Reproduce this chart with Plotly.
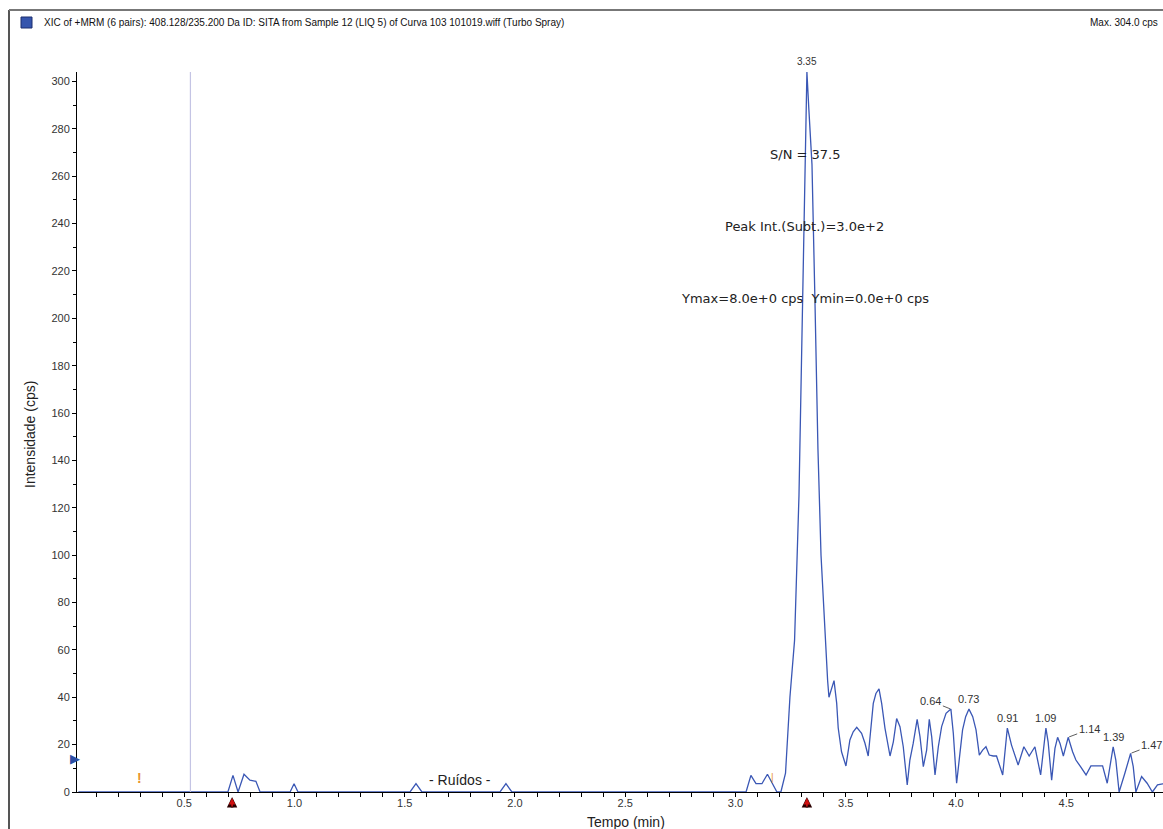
import plotly.graph_objects as go

# ---------------- data ----------------
time_min = [
    0.02, 0.698, 0.721, 0.744, 0.771, 0.798, 0.825, 0.844,
    0.980, 0.998, 1.016,
    1.524, 1.551, 1.578,
    1.932, 1.959, 1.986,
    3.048, 3.070, 3.093, 3.120, 3.145, 3.165, 3.188,
    3.206, 3.227, 3.247, 3.268, 3.288, 3.306, 3.324,
    3.333, 3.347, 3.361, 3.374, 3.388, 3.401, 3.418, 3.424, 3.436, 3.447,
    3.459, 3.466, 3.481, 3.501, 3.519, 3.534, 3.550, 3.572, 3.587, 3.602,
    3.625, 3.637, 3.651, 3.663, 3.678, 3.701, 3.716, 3.731, 3.746, 3.761,
    3.779, 3.791, 3.806, 3.824, 3.837, 3.852, 3.867, 3.879, 3.890, 3.905,
    3.920, 3.935, 3.955, 3.977, 3.988, 4.003, 4.018, 4.030, 4.044, 4.059,
    4.076, 4.091, 4.106, 4.121, 4.136, 4.151, 4.169, 4.184, 4.212, 4.233,
    4.252, 4.282, 4.308, 4.332, 4.358, 4.384, 4.408, 4.418, 4.434, 4.449,
    4.461, 4.472, 4.487, 4.509, 4.529, 4.544, 4.565, 4.590, 4.612, 4.638,
    4.665, 4.686, 4.713, 4.725, 4.740, 4.766, 4.792, 4.804, 4.816, 4.842,
    4.867, 4.891, 4.914, 4.937, 4.955,
]
intensity_cps = [
    0, 0, 7, 0, 7.5, 5, 4.5, 0,
    0, 3.5, 0,
    0, 3.5, 0,
    0, 3.5, 0,
    0, 7, 3.5, 3.5, 7.5, 4, 0,
    0, 8, 40, 64, 125, 215, 304,
    288, 265, 205, 145, 100, 75, 47, 40, 44, 47,
    37.5, 27, 17, 11, 22, 25.4, 27.3, 24.8, 20.7, 15.2,
    37.4, 41.6, 43.5, 37.4, 27, 15.2, 21.2, 31, 27.6, 19.1,
    3, 13.5, 20.5, 30.7, 23.3, 10.7, 17.7, 30.7, 23.3, 7.2,
    19.1, 27.6, 33.2, 35, 24.8, 3.7, 16.3, 26.2, 31.8, 35,
    31.8, 26.2, 15.6, 17.7, 19.1, 15.6, 15.2, 15.2, 7.2, 27,
    19.8, 11.4, 19.1, 15.2, 19.1, 7.2, 27, 21.2, 5, 18.4,
    23.1, 20.5, 15.2, 23.1, 17, 13.5, 10.7, 7.2, 11, 11,
    11, 3.7, 19.1, 13.5, 0, 7.9, 16.3, 10.7, 0, 6.5,
    3.7, 0, 3, 3.4, 3.4,
]

apex_time = 3.324
apex_value = 304
apex_label = "3.35"

peak_labels = ["0.64", "0.73", "0.91", "1.09", "1.14", "1.39", "1.47"]
peak_times = [3.977, 4.059, 4.233, 4.408, 4.509, 4.713, 4.792]
peak_values = [35, 35, 27, 27, 23.1, 19.1, 16.3]
peak_leader = [True, False, False, False, True, False, True]

y_ticks = list(range(0, 301, 20))
x_ticks = [0.5, 1.0, 1.5, 2.0, 2.5, 3.0, 3.5, 4.0, 4.5]

header_text = ("XIC of +MRM (6 pairs): 408.128/235.200 Da ID: SITA from Sample 12 "
               "(LIQ 5) of Curva 103 101019.wiff (Turbo Spray)")
max_text = "Max. 304.0 cps"
stats_lines = ["S/N = 37.5", "Peak Int.(Subt.)=3.0e+2", "Ymax=8.0e+0 cps  Ymin=0.0e+0 cps"]

# ---------------- layout geometry ----------------
W, H = 1163, 829
L, R, T, B = 77, 0, 72, 37
PW, PH = W - L - R, H - T - B
XR = [0.0136, 4.939]
YR = [0, 304]


def px_x(px):
    return (px - L) / PW


def px_y(py):
    return (H - B - py) / PH


LINE = "#3a57b5"
TXT = "#333333"

fig = go.Figure()
fig.add_trace(go.Scatter(x=time_min, y=intensity_cps, mode="lines",
                         line=dict(color=LINE, width=1.3), hoverinfo="skip",
                         showlegend=False))

ann = []
font_main = "Liberation Sans, Arial, sans-serif"
font_stat = "DejaVu Sans, Verdana, sans-serif"

ann.append(dict(xref="paper", yref="paper", x=px_x(42), y=px_y(22), text=header_text,
                showarrow=False, xanchor="left", yanchor="middle",
                font=dict(family=font_main, size=10, color="#111")))
ann.append(dict(xref="paper", yref="paper", x=px_x(1088), y=px_y(22), text=max_text,
                showarrow=False, xanchor="left", yanchor="middle",
                font=dict(family=font_main, size=10, color="#111")))

# stats text
for txt, py in zip(stats_lines, [154, 226, 298]):
    ann.append(dict(xref="x", yref="paper", x=3.315, y=px_y(py), text=txt, showarrow=False,
                    xanchor="center", yanchor="middle",
                    font=dict(family=font_stat, size=13, color="#222")))

# apex label
ann.append(dict(x=apex_time, y=apex_value, text=apex_label, showarrow=False,
                xanchor="center", yanchor="bottom", yshift=3,
                font=dict(family=font_main, size=10, color=TXT)))

# peak labels
for lab, t, v, lead in zip(peak_labels, peak_times, peak_values, peak_leader):
    if lead:
        if lab == "0.64":
            ax, ay = -20, -8
        else:
            ax, ay = 21, -8
        ann.append(dict(x=t, y=v, text=lab, showarrow=True, arrowhead=0, arrowwidth=0.8,
                        arrowcolor="#333", ax=ax, ay=ay, standoff=1,
                        font=dict(family=font_main, size=11, color=TXT)))
    else:
        ann.append(dict(x=t, y=v, text=lab, showarrow=False, xanchor="center",
                        yanchor="bottom", yshift=2,
                        font=dict(family=font_main, size=11, color=TXT)))

# noise label
ann.append(dict(x=1.75, y=5, text="- Ruídos -", showarrow=False, xanchor="center",
                font=dict(family=font_main, size=14, color="#222")))

# orange integration marks
ann.append(dict(x=0.299, y=6, text="<b>!</b>", showarrow=False, xanchor="center",
                font=dict(family=font_main, size=14, color="#e8952e")))
ann.append(dict(x=3.166, y=6, text="|", showarrow=False, xanchor="center",
                font=dict(family=font_main, size=10, color="#e8952e")))

# blue marker on y axis
ann.append(dict(xref="paper", yref="y", x=px_x(75), y=14, text="▶", showarrow=False,
                xanchor="center", yanchor="middle",
                font=dict(family="DejaVu Sans", size=13, color="#2c4ea3")))

# red arrows below axis (dark outline behind red arrow)
for t in [0.717, apex_time]:
    ann.append(dict(x=t, xref="x", yref="paper", y=px_y(797), text="", showarrow=True,
                    arrowhead=2, arrowsize=0.8, arrowwidth=2.6, arrowcolor="#2a0000",
                    ax=0, ay=12))
    ann.append(dict(x=t, xref="x", yref="paper", y=px_y(798), text="", showarrow=True,
                    arrowhead=2, arrowsize=0.8, arrowwidth=1.6, arrowcolor="#d01010",
                    ax=0, ay=10))

# axis titles
ann.append(dict(xref="paper", yref="paper", x=px_x(30), y=px_y(435), text="Intensidade (cps)",
                textangle=-90, showarrow=False, xanchor="center", yanchor="middle",
                font=dict(family=font_main, size=14, color="#222")))
ann.append(dict(xref="paper", yref="paper", x=px_x(626), y=px_y(822), text="Tempo (min)",
                showarrow=False, xanchor="center", yanchor="middle",
                font=dict(family=font_main, size=14, color="#222")))

shapes = [
    # lavender cursor line
    dict(type="line", xref="x", yref="paper", x0=0.528, x1=0.528, y0=0, y1=1,
         line=dict(color="#c4c4e4", width=1.2)),
    # window frame
    dict(type="line", xref="paper", yref="paper", x0=px_x(9), x1=px_x(9), y0=px_y(10), y1=px_y(840),
         line=dict(color="#555555", width=2)),
    dict(type="line", xref="paper", yref="paper", x0=px_x(9), x1=px_x(1170), y0=px_y(10), y1=px_y(10),
         line=dict(color="#777777", width=2)),
    # blue icon
    dict(type="rect", xref="paper", yref="paper", x0=px_x(21), x1=px_x(32), y0=px_y(28), y1=px_y(17),
         fillcolor="#3555ad", line=dict(color="#1d2f6e", width=1)),
]

fig.update_layout(
    width=W, height=H,
    margin=dict(l=L, r=R, t=T, b=B, pad=0),
    paper_bgcolor="white", plot_bgcolor="white",
    showlegend=False,
    annotations=ann, shapes=shapes,
    xaxis=dict(range=XR, tickmode="array", tickvals=x_ticks, ticktext=[f"{v:.1f}" for v in x_ticks],
               showgrid=False, zeroline=False, showline=True, linecolor="black", linewidth=1,
               ticks="outside", ticklen=4, tickcolor="black", ticklabelstandoff=-3,
               minor=dict(dtick=0.1, tick0=0, ticks="outside", ticklen=4, tickcolor="black", showgrid=False),
               tickfont=dict(family=font_main, size=11, color=TXT)),
    yaxis=dict(range=YR, tickmode="array", tickvals=y_ticks,
               showgrid=False, zeroline=False, showline=True, linecolor="black", linewidth=1,
               ticks="outside", ticklen=4, tickcolor="black",
               minor=dict(dtick=10, tick0=0, ticks="outside", ticklen=3, tickcolor="black", showgrid=False),
               tickfont=dict(family=font_main, size=11, color=TXT)),
)

fig.write_html("out.html", config={"displayModeBar": False},
               post_script="document.body.style.margin='0';")
